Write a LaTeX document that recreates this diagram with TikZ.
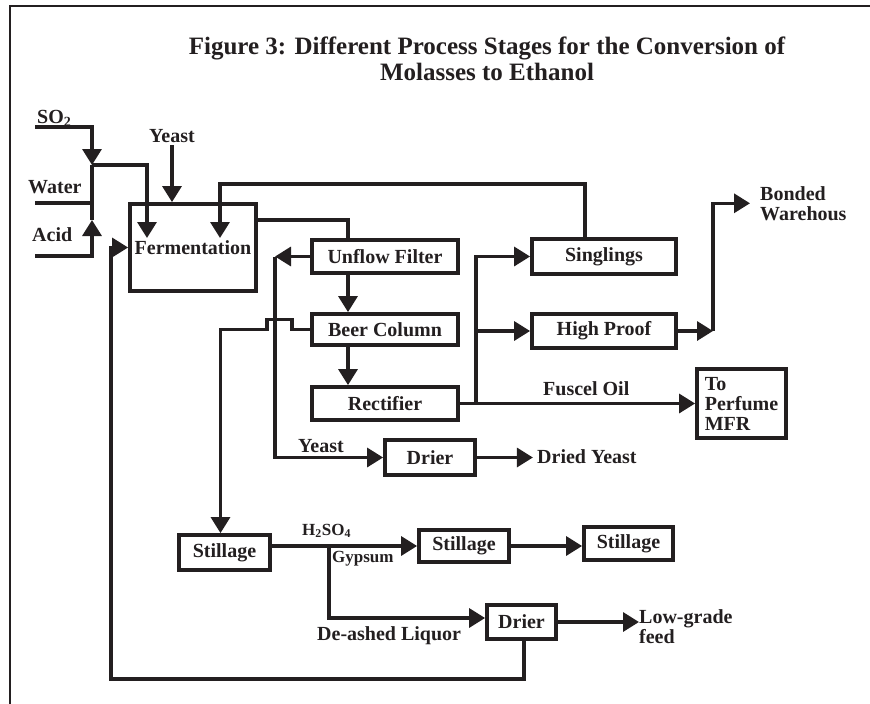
\documentclass[tikz,border=0pt]{standalone}
\usepackage{fontspec}
\setmainfont{Liberation Serif}
\usepackage{xcolor}
\usepackage{tikz}
\usetikzlibrary{
  positioning,
  calc,
  arrows.meta
}
\definecolor{ink}{HTML}{231F20}
\newcommand{\lblfont}{\fontsize{20}{20}\selectfont\bfseries}
\newcommand{\smlfont}{\fontsize{17}{17}\selectfont\bfseries}
\newcommand{\ttlfont}{\fontsize{25}{26}\selectfont\bfseries}

\begin{document}
\begin{tikzpicture}[x=1pt,y=-1pt,ink,
  box/.style={draw,line width=3.8pt,inner sep=0pt,font=\lblfont},
  flow/.style={line width=3.3pt},
  arr/.style={flow,-{Triangle[length=16pt,width=19pt]}},
  lbl/.style={inner sep=0pt,font=\lblfont,align=left}]
  \useasboundingbox (0,0) rectangle (870,704);
  % 枠
  \draw[line width=1.2pt] (10,704)--(10,6)--(870,6);
  % タイトル
  \node[font=\ttlfont,anchor=base] (title) at (487,54) {Figure 3: Different Process Stages for the Conversion of};
  \node[font=\ttlfont,anchor=base] (title2) at (487,80) {Molasses to Ethanol};
  % 工程
  \node[box,minimum width=126pt,minimum height=87pt] (ferm) at (193,247.5) {Fermentation};
  \node[box,minimum width=146pt,minimum height=33pt] (unflow) at (385,256.5) {Unflow Filter};
  \node[box,minimum width=146pt,minimum height=31pt] (beer) at (385,329.5) {Beer Column};
  \node[box,minimum width=146pt,minimum height=33pt] (rect) at (385,403.5) {Rectifier};
  \node[box,minimum width=144pt,minimum height=35pt] (sing) at (604,256.5) {Singlings};
  \node[box,minimum width=144pt,minimum height=34pt] (high) at (604,331) {High Proof};
  \node[box,minimum width=89pt,minimum height=69pt,align=left] (perf) at (741.5,403.5) {To\\Perfume\\MFR};
  \node[box,minimum width=90pt,minimum height=35pt] (drier1) at (430,457.5) {Drier};
  \node[box,minimum width=91pt,minimum height=35pt] (still1) at (224.5,552.5) {Stillage};
  \node[box,minimum width=90pt,minimum height=32pt] (still2) at (464,546) {Stillage};
  \node[box,minimum width=89pt,minimum height=33pt] (still3) at (628.5,543.5) {Stillage};
  \node[box,minimum width=69pt,minimum height=34pt] (drier2) at (521.5,622) {Drier};
  % ラベル
  \node[lbl,anchor=base west] (so2lbl) at (37,123) {SO\textsubscript{2}};
  \node[lbl,anchor=base west] (waterlbl) at (28,193) {Water};
  \node[lbl,anchor=base west] (acidlbl) at (32,241) {Acid};
  \node[lbl,anchor=base] (yeastlbl) at (172,142) {Yeast};
  \node[lbl,anchor=base west] (yeast2lbl) at (298,452) {Yeast};
  \node[lbl,anchor=base west] (fuslbl) at (543,395) {Fuscel Oil};
  \node[lbl,anchor=north west] (bondlbl) at (760,186) {Bonded\\Warehous};
  \node[lbl,anchor=base west] (dylbl) at (537,463) {Dried Yeast};
  \node[lbl,anchor=base west,font=\smlfont] (h2lbl) at (302,535) {H\textsubscript{2}SO\textsubscript{4}};
  \node[lbl,anchor=base west,font=\smlfont] (gyplbl) at (332,562) {Gypsum};
  \node[lbl,anchor=base west] (deashlbl) at (317,640) {De-ashed Liquor};
  \node[lbl,anchor=north west] (lowlbl) at (639,609) {Low-grade\\feed};
  % 分岐点
  \coordinate (so2in) at (35,127);
  \coordinate (waterin) at (35,203);
  \coordinate (acidin) at (35,256);
  \coordinate (jA) at (92,165);
  \coordinate (jW) at (92,203);
  \coordinate (acidtip) at (92,220);
  \coordinate (fin1) at (147,238);
  \coordinate (fin2) at (220,238);
  \coordinate (ycorner) at (275,256.5);
  \coordinate (fork) at (476,403.5);
  \coordinate (bjoin) at (713,331);
  \coordinate (gyp) at (329,545);
  \coordinate (recyc) at (111,679);
  % 原料
  \draw[arr] (so2in) -| (jA);
  \draw[flow] (waterin)--(jW);
  \draw[arr] (acidin) -| (acidtip);
  \draw[flow] (acidtip)--(jA);
  \draw[arr] (jA) -| (fin1);
  \draw[arr] ([yshift=-3pt]yeastlbl.south)--(ferm.north -| yeastlbl.south);
  \draw[arr] ([xshift=-19pt]sing.north)--++(0,-53) -| (fin2);
  % 蒸留
  \draw[flow] ([yshift=-18pt]ferm.north east) -| ([xshift=-37pt]unflow.north);
  \draw[arr] ([xshift=-37pt]unflow.south)--([xshift=-37pt]beer.north);
  \draw[arr] ([xshift=-37pt]beer.south)--([xshift=-37pt]rect.north);
  \draw[arr] (unflow.west)--(ycorner);
  \draw[arr] (ycorner) |- (drier1.west);
  \draw[arr] (beer.west)--++(-18,0)--++(0,-10)--++(-25,0)--++(0,10) -| ([xshift=-4pt]still1.north);
  \draw[arr] (rect.east)--(perf.west);
  \draw[arr] (fork) |- (sing.west);
  \draw[arr] (fork |- high.west)--(high.west);
  \draw[arr] (high.east)--(bjoin);
  \draw[arr] (bjoin) |- ([xshift=-10pt]bondlbl.west);
  \draw[arr] (drier1.east)--++(56,0);
  % 廃液
  \draw[arr] (still1.east |- still2.west)--(still2.west);
  \draw[arr] (still2.east)--(still3.west |- still2.east);
  \draw[arr] (gyp) |- ([yshift=4pt]drier2.west);
  \draw[arr] (drier2.east)--(drier2.east -| lowlbl.west);
  \draw[arr] ([xshift=2.5pt]drier2.south) |- (recyc) |- (ferm.west);
\end{tikzpicture}
\end{document}
